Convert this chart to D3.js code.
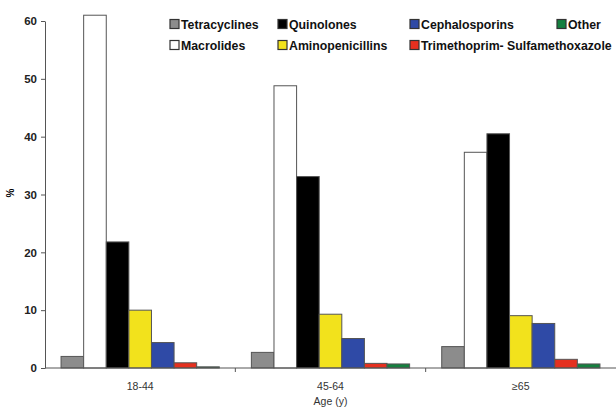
<!doctype html>
<html>
<head>
<script src="https://cdnjs.cloudflare.com/ajax/libs/d3/7.8.5/d3.min.js"></script>
<style>
body { margin: 0; background: #fff; }
svg { font-family: "Liberation Sans", Arial, sans-serif; }
.yaxis text { font-size: 11.5px; font-weight: bold; fill: #222; }
.xaxis text { font-size: 10.5px; fill: #333; }
.domain, .tick line { stroke: #555; }
.legend text { font-size: 12.3px; font-weight: bold; fill: #111; }
</style>
</head>
<body>
<svg width="616" height="409"></svg>
<script>
var ageGroups = ["18-44", "45-64", "\u226565"];
var drugs = ["Tetracyclines", "Macrolides", "Quinolones", "Aminopenicillins",
             "Cephalosporins", "Trimethoprim-Sulfamethoxazole", "Other"];
var tetracyclines    = [2.0, 2.7, 3.7];
var macrolides       = [61.0, 48.8, 37.3];
var quinolones       = [21.8, 33.1, 40.5];
var aminopenicillins = [10.0, 9.3, 9.05];
var cephalosporins   = [4.4, 5.1, 7.7];
var trimethoprim     = [0.9, 0.8, 1.5];
var other            = [0.2, 0.7, 0.7];
var yTicks = [0, 10, 20, 30, 40, 50, 60];

var values = [tetracyclines, macrolides, quinolones, aminopenicillins,
              cephalosporins, trimethoprim, other];
var colors = ["#8c8c8c", "#ffffff", "#000000", "#f2e21c", "#2f4aa6", "#e5301f", "#15803f"];

var svg = d3.select("svg");

var x0 = d3.scaleBand().domain(ageGroups).range([45, 616]).paddingInner(0).paddingOuter(0);
var x1 = d3.scaleBand().domain(drugs).range([0, x0.bandwidth()]).paddingInner(0).paddingOuter(0.71);
var y = d3.scaleLinear().domain([0, 60]).range([368, 21]);

// bars
var rows = [];
ageGroups.forEach(function (g, gi) {
  drugs.forEach(function (d, di) {
    rows.push({group: g, drug: d, value: values[di][gi], color: colors[di]});
  });
});

svg.append("g")
  .selectAll("rect")
  .data(rows)
  .enter()
  .append("rect")
  .attr("x", d => x0(d.group) + x1(d.drug))
  .attr("y", d => y(d.value))
  .attr("width", x1.bandwidth())
  .attr("height", d => y(0) - y(d.value))
  .attr("fill", d => d.color)
  .attr("stroke", "#555")
  .attr("stroke-width", 1);

// y axis
svg.append("g")
  .attr("class", "yaxis")
  .attr("transform", "translate(45,0)")
  .call(d3.axisLeft(y).tickValues(yTicks).tickSize(4).tickSizeOuter(0).tickPadding(4));

// x axis with ticks at category boundaries
var xAxis = svg.append("g")
  .attr("class", "xaxis")
  .attr("transform", "translate(0,368)");
xAxis.append("line")
  .attr("class", "domain")
  .attr("x1", 45).attr("x2", 616);
xAxis.selectAll("line.b")
  .data(ageGroups.slice(1))
  .enter()
  .append("line")
  .attr("class", "b")
  .attr("stroke", "#555")
  .attr("x1", d => x0(d)).attr("x2", d => x0(d))
  .attr("y1", 0).attr("y2", 4);
xAxis.selectAll("text")
  .data(ageGroups)
  .enter()
  .append("text")
  .attr("x", d => x0(d) + x0.bandwidth() / 2)
  .attr("y", 22)
  .attr("text-anchor", "middle")
  .text(d => d);

svg.append("text")
  .attr("x", x0("45-64") + x0.bandwidth() / 2)
  .attr("y", 405)
  .attr("text-anchor", "middle")
  .style("font-size", "10.5px")
  .style("fill", "#333")
  .text("Age (y)");

svg.append("text")
  .attr("transform", "translate(14,193) rotate(-90)")
  .attr("text-anchor", "middle")
  .style("font-size", "10px")
  .style("font-weight", "bold")
  .text("%");

// legend
var legendPos = [[170, 24], [170, 45], [278, 24], [278, 45], [410, 24], [410, 45], [557, 24]];
var legend = svg.append("g").attr("class", "legend")
  .selectAll("g")
  .data(drugs)
  .enter()
  .append("g")
  .attr("transform", (d, i) => "translate(" + legendPos[i][0] + "," + legendPos[i][1] + ")");
legend.append("rect")
  .attr("x", 0).attr("y", -4.5)
  .attr("width", 9).attr("height", 9)
  .attr("fill", (d, i) => colors[i])
  .attr("stroke", "#333")
  .attr("stroke-width", 1.2);
legend.append("text")
  .attr("x", 11)
  .attr("y", 4.5)
  .text(d => d === "Trimethoprim-Sulfamethoxazole" ? "Trimethoprim- Sulfamethoxazole" : d);
</script>
</body>
</html>
